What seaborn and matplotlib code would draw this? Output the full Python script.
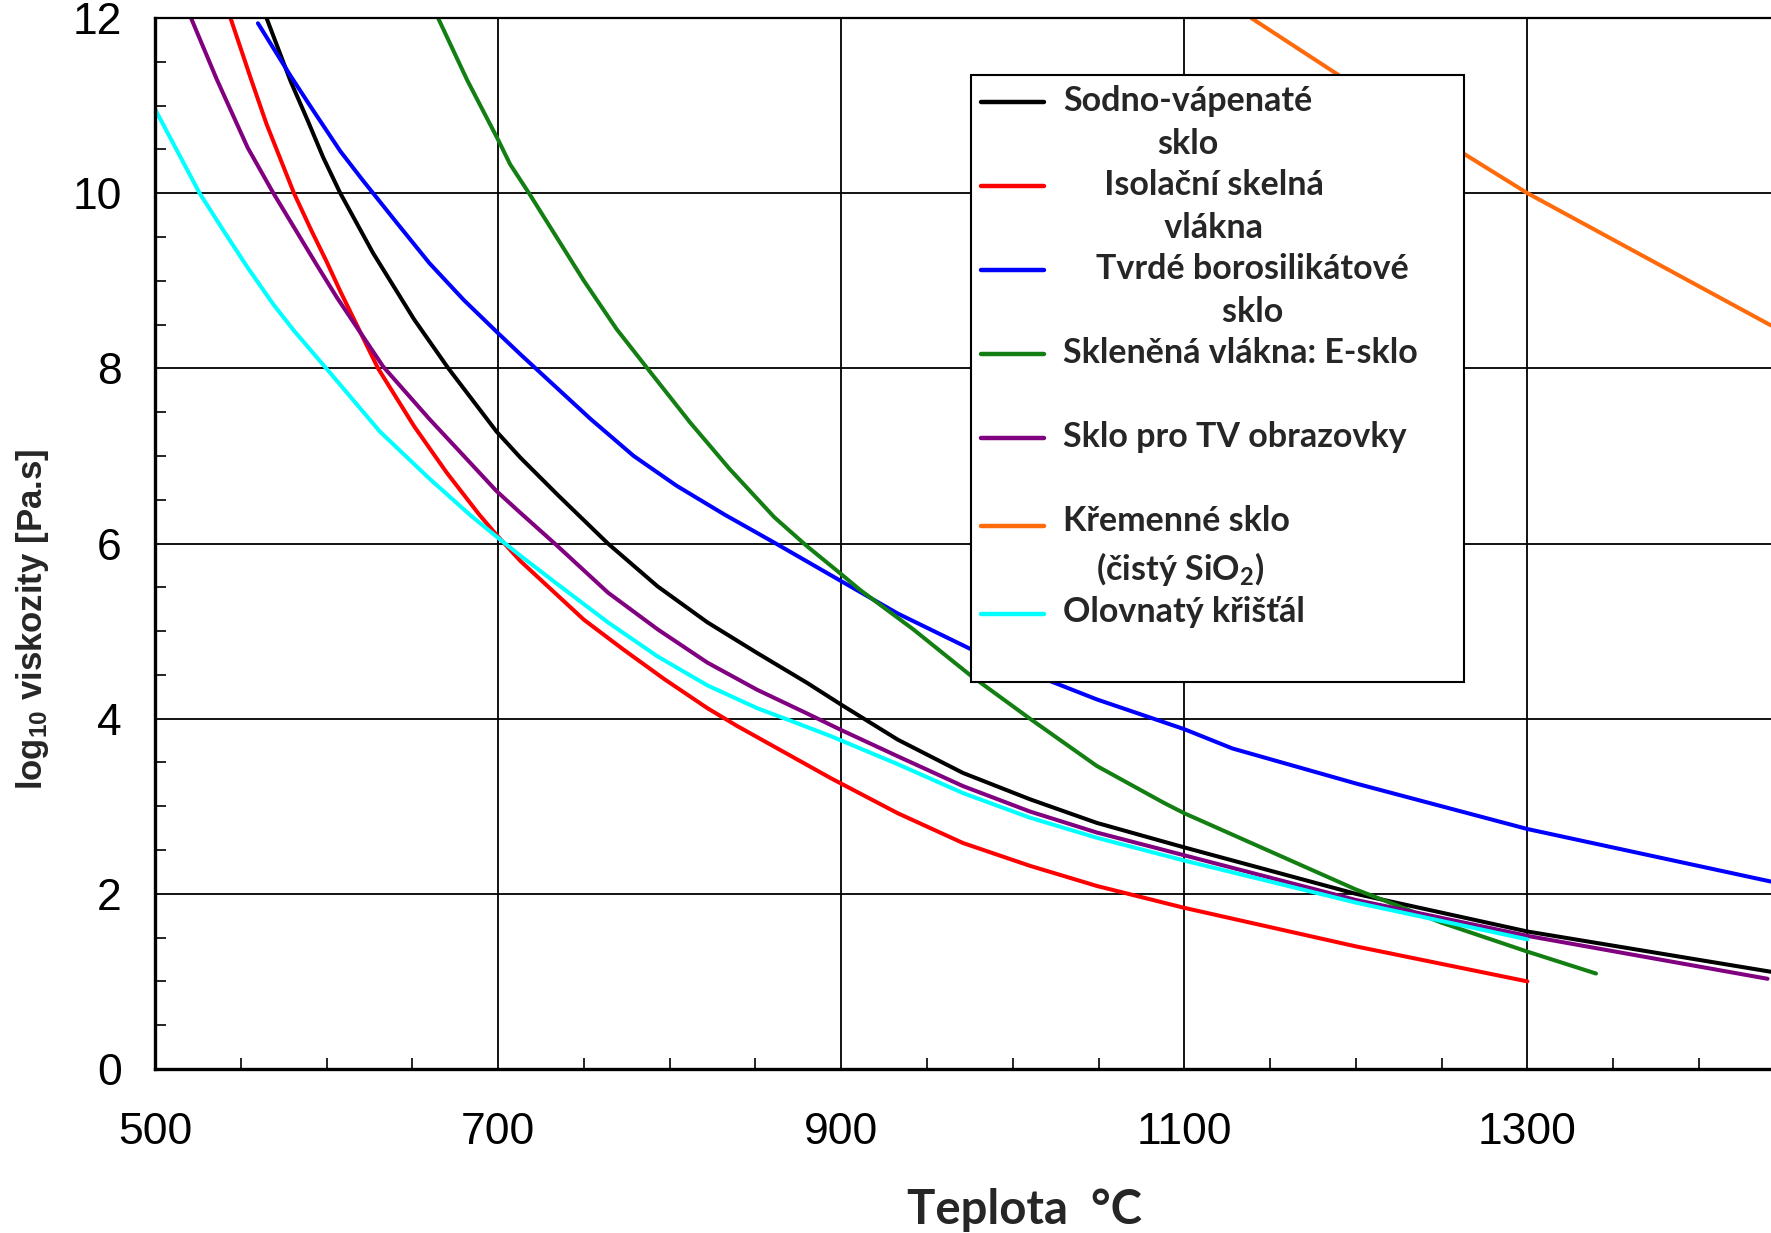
import numpy as np
import pandas as pd
import seaborn as sns
import matplotlib.pyplot as plt
from matplotlib.ticker import MultipleLocator

# 1. Curves: teplota (degC) vs log10 viskozity (Pa.s)
soda_t = [565, 579, 589, 598, 608, 627, 651, 671, 699, 713, 735, 764, 793, 822, 851, 880, 900,
          933, 971, 1010, 1049, 1100, 1200, 1300, 1442]
soda_v = [12.0, 11.28, 10.83, 10.41, 10.0, 9.32, 8.56, 8.0, 7.28, 6.98, 6.55, 6.0, 5.51, 5.10,
          4.75, 4.41, 4.16, 3.76, 3.38, 3.08, 2.81, 2.53, 2.0, 1.57, 1.11]

izol_t = [544, 556, 565, 581, 591, 600, 608, 620, 630, 651, 670, 689, 699, 713, 750, 773, 797,
          822, 839, 894, 933, 971, 1010, 1049, 1100, 1200, 1300]
izol_v = [12.0, 11.3, 10.79, 10.0, 9.58, 9.22, 8.88, 8.4, 8.0, 7.34, 6.81, 6.33, 6.1, 5.8, 5.13,
          4.79, 4.45, 4.12, 3.92, 3.32, 2.92, 2.58, 2.32, 2.09, 1.84, 1.40, 1.0]

boro_t = [560, 579, 591, 608, 621, 641, 660, 680, 699, 713, 754, 779, 804, 832, 861, 900, 933,
          977, 1010, 1049, 1100, 1128, 1200, 1300, 1442]
boro_v = [11.94, 11.34, 10.98, 10.48, 10.15, 9.66, 9.2, 8.78, 8.42, 8.16, 7.42, 7.0, 6.66, 6.33,
          6.01, 5.57, 5.2, 4.78, 4.52, 4.22, 3.88, 3.66, 3.26, 2.74, 2.14]

esklo_t = [665, 682, 700, 707, 718, 750, 769, 787, 812, 835, 861, 880, 900, 911, 942, 975, 1010,
           1049, 1088, 1100, 1200, 1250, 1300, 1340]
esklo_v = [12.0, 11.29, 10.61, 10.33, 10.0, 9.0, 8.45, 8.0, 7.38, 6.85, 6.3, 5.97, 5.65, 5.47,
           5.02, 4.5, 4.0, 3.46, 3.04, 2.92, 2.05, 1.67, 1.34, 1.09]

tv_t = [521, 536, 554, 569, 594, 606, 620, 633, 660, 680, 699, 713, 733, 764, 793, 822, 851, 880,
        900, 933, 971, 1010, 1049, 1100, 1200, 1300, 1440]
tv_v = [12.0, 11.3, 10.52, 10.0, 9.19, 8.81, 8.4, 8.02, 7.42, 7.0, 6.60, 6.35, 6.0, 5.44, 5.02,
        4.64, 4.33, 4.06, 3.87, 3.57, 3.23, 2.94, 2.70, 2.44, 1.93, 1.52, 1.03]

kremen_t = [1139, 1200, 1263, 1300, 1442]
kremen_v = [12.0, 11.22, 10.45, 10.0, 8.49]

olovo_t = [500, 513, 526, 540, 554, 569, 581, 602, 631, 660, 684, 699, 713, 735, 764, 793, 822,
           851, 870, 894, 933, 971, 1010, 1049, 1100, 1200, 1300]
olovo_v = [10.96, 10.48, 10.0, 9.57, 9.15, 8.73, 8.43, 7.95, 7.28, 6.74, 6.32, 6.08, 5.86, 5.53,
           5.10, 4.71, 4.38, 4.12, 3.98, 3.80, 3.48, 3.15, 2.87, 2.64, 2.38, 1.90, 1.48]

keys = ["soda", "izol", "boro", "esklo", "tv", "kremen", "olovo"]
labels = ["Sodno-vápenaté\nsklo",
          "     Isolační skelná\n     vlákna",
          "    Tvrdé borosilikátové\n    sklo",
          "Skleněná vlákna: E-sklo\n",
          "Sklo pro TV obrazovky\n",
          "Křemenné sklo\n (čistý SiO$_2$)",
          "Olovnatý křišťál\n"]
colors = ["#000000", "#ff0000", "#0000ff", "#137f13", "#800080", "#ff6a0a", "#00ffff"]

series = [(soda_t, soda_v), (izol_t, izol_v), (boro_t, boro_v), (esklo_t, esklo_v),
          (tv_t, tv_v), (kremen_t, kremen_v), (olovo_t, olovo_v)]
df = pd.concat([pd.DataFrame({"T": t, "v": v, "glass": k}) for (t, v), k in zip(series, keys)],
               ignore_index=True)

# 2. Style
sns.set_style("white")
plt.rcParams["font.family"] = ["Liberation Sans", "DejaVu Sans"]
plt.rcParams["mathtext.default"] = "regular"

fig = plt.figure(figsize=(17.71, 12.33), dpi=100)
ax = fig.add_axes([155 / 1771, 1 - 1069 / 1233, 1616 / 1771, 1051 / 1233])

sns.lineplot(data=df, x="T", y="v", hue="glass", hue_order=keys, palette=colors,
             sort=False, estimator=None, linewidth=2.9, legend=False, ax=ax)

# 3. Axes, grid, ticks
ax.set_xlim(500, 1442)
ax.set_ylim(0, 12)
ax.set_xticks([500, 700, 900, 1100, 1300])
ax.set_yticks(range(0, 13, 2))
ax.xaxis.set_minor_locator(MultipleLocator(50))
ax.yaxis.set_minor_locator(MultipleLocator(0.5))
ax.grid(True, which="major", color="black", linewidth=1.3)
ax.tick_params(which="major", length=0, labelsize=32, colors="black")
ax.tick_params(axis="x", which="major", pad=31)
ax.tick_params(axis="y", which="major", pad=24)
ax.tick_params(which="minor", direction="in", length=8, width=1.2, color="black",
               bottom=True, left=True, top=False, right=False)
for side in ["left", "bottom"]:
    ax.spines[side].set_linewidth(2.4)
    ax.spines[side].set_color("black")
ax.spines["top"].set_linewidth(1.6)
ax.spines["top"].set_color("black")
ax.spines["right"].set_visible(False)

ax.set_xlabel("Teplota  °C", family="Lato", weight="bold", fontsize=34, va="center")
ax.xaxis.set_label_coords(0.538, -0.134)
ax.set_ylabel("log$_{10}$ viskozity [Pa.s]", weight="bold", fontsize=25,
              va="center", ha="center")
ax.yaxis.set_label_coords(-0.076, 0.428)

# 4. Legend
leg = ax.legend(handles=ax.get_lines()[:7], labels=labels, loc="upper left",
                bbox_to_anchor=(0.505, 0.0, 0.305, 0.946), mode="expand", borderaxespad=0,
                frameon=True, fancybox=False, framealpha=1, edgecolor="black",
                prop={"family": "Lato", "weight": "bold", "size": 24.5},
                handlelength=1.85, handletextpad=0.55, labelspacing=0.25, borderpad=0.3)
leg.get_frame().set_linewidth(1.5)
for t in leg.get_texts():
    t.set_multialignment("center")
    t.set_linespacing(1.44)
for ln in leg.get_lines():
    ln.set_linewidth(3.2)
    ln.set_ydata(np.asarray(ln.get_ydata()) + 15.5)

fig.savefig("out.png", dpi=100)
